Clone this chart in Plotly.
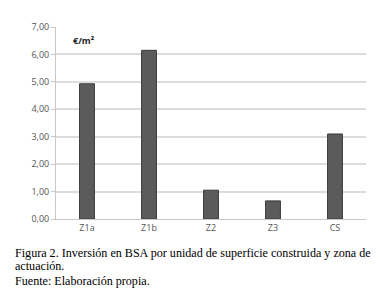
import plotly.graph_objects as go

categories = ["Z1a", "Z1b", "Z2", "Z3", "CS"]
values = [4.93, 6.15, 1.05, 0.66, 3.10]
tick_vals = [0, 1, 2, 3, 4, 5, 6, 7]
unit_label = "€/m²"
caption_lines = [
    "Figura 2. Inversión en BSA por unidad de superficie construida y zona de",
    "actuación.",
    "Fuente: Elaboración propia.",
]

fig = go.Figure()
fig.add_trace(go.Bar(
    x=categories, y=values, width=0.24,
    marker=dict(color="#5b5b5b", line=dict(color="#3c3c3c", width=1)),
))

W, H = 382, 288
ml, mr, mt, mb = 48, 24, 12, 77
ph = H - mt - mb

annotations = [dict(
    text="<b>" + unit_label + "</b>", xref="paper", yref="paper",
    x=15 / (W - ml - mr), y=(211 - 26) / ph, xanchor="left", yanchor="middle",
    showarrow=False, font=dict(family="Open Sans, sans-serif", size=9, color="#222222"),
)]
for i, (line, py) in enumerate(zip(caption_lines, [246, 260, 275])):
    annotations.append(dict(
        text=line, xref="paper", yref="paper",
        x=(5 - ml) / (W - ml - mr), y=(211 - py) / ph,
        xanchor="left", yanchor="middle", showarrow=False,
        font=dict(family="Liberation Serif, Times New Roman, serif", size=12.1, color="#000000"),
    ))

fig.update_layout(
    width=W, height=H, margin=dict(l=ml, r=mr, t=mt, b=mb),
    paper_bgcolor="white", plot_bgcolor="white",
    separators=",.", showlegend=False, bargap=0.76,
    annotations=annotations,
    xaxis=dict(showgrid=False, showline=True, linecolor="#c8c8c8", linewidth=1,
               ticks="", tickfont=dict(family="Open Sans, sans-serif", size=9, color="#555555")),
    yaxis=dict(range=[0, 7], tickvals=tick_vals, tickformat=".2f",
               showgrid=True, gridcolor="#dcdcdc", gridwidth=1.5,
               showline=True, linecolor="#c8c8c8", linewidth=1, ticks="outside",
               ticklen=4, tickcolor="#c8c8c8", zeroline=False,
               tickfont=dict(family="Open Sans, sans-serif", size=9, color="#555555")),
)

fig.write_html("out.html")
